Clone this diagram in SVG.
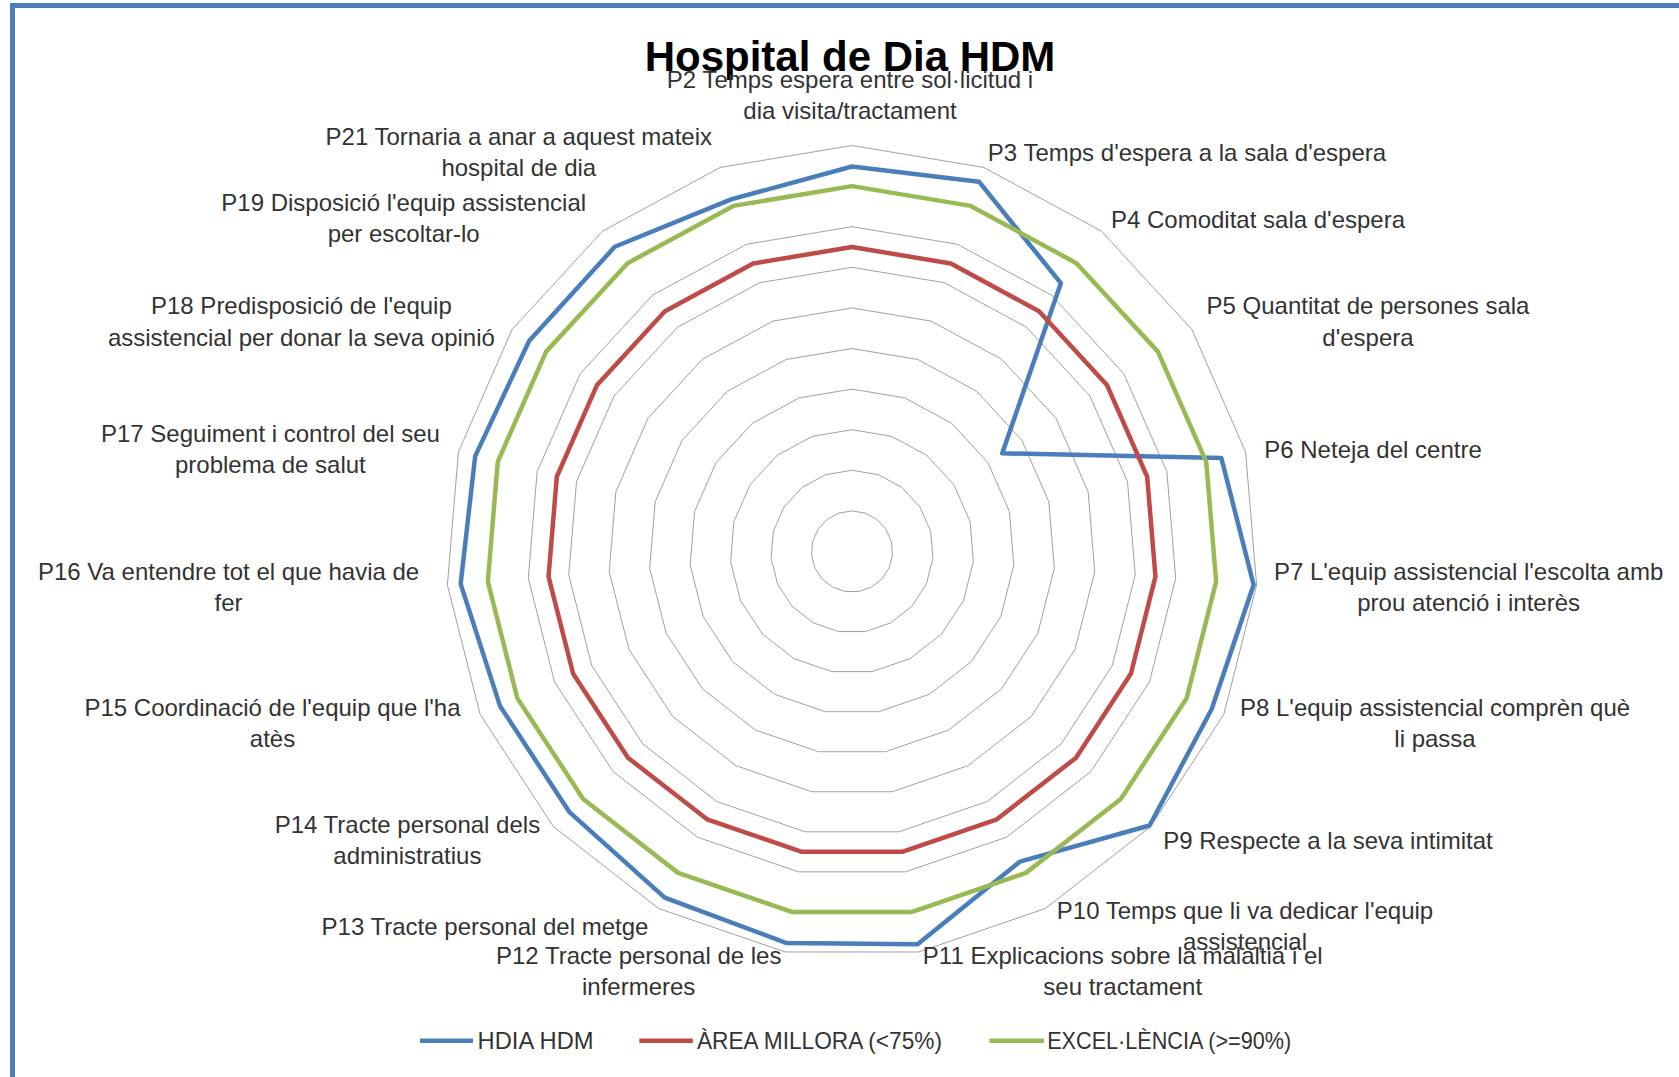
<svg xmlns="http://www.w3.org/2000/svg" xmlns:xlink="http://www.w3.org/1999/xlink" width="1679" height="1077" viewBox="0 0 1679 1077">
<style>
.lbl{font-family:"Liberation Sans",Arial,sans-serif;font-size:24px;fill:#333;text-anchor:middle}
.title{font-family:"Liberation Sans",Arial,sans-serif;font-size:42px;font-weight:bold;fill:#000;text-anchor:middle}
.leg{font-family:"Liberation Sans",Arial,sans-serif;font-size:24px;fill:#333}
.grid{fill:none;stroke:#a0a0a0;stroke-width:1}
.ser{fill:none;stroke-width:4.5;stroke-linejoin:round}
.blue{stroke:#4a7ebb}
.red{stroke:#be4b48}
.green{stroke:#98b954}
</style>
<defs>
<polygon id="ring" vector-effect="non-scaling-stroke" points="0,-406 131.83,-384 249.37,-320.39 339.89,-222.06 393.58,-99.67 404.61,33.53 371.8,163.09 298.7,274.98 193.24,357.06 66.83,400.46 -66.83,400.46 -193.24,357.06 -298.7,274.98 -371.8,163.09 -404.61,33.53 -393.58,-99.67 -339.89,-222.06 -249.37,-320.39 -131.83,-384"/>
</defs>
<rect width="1679" height="1077" fill="#fff"/>
<path d="M12.5,1077 V5.5 H1679" fill="none" stroke="#4a7ebb" stroke-width="5"/>

<g id="grid" class="grid">
<use xlink:href="#ring" transform="translate(852,551.5) scale(0.1)"/>
<use xlink:href="#ring" transform="translate(852,551.5) scale(0.2)"/>
<use xlink:href="#ring" transform="translate(852,551.5) scale(0.3)"/>
<use xlink:href="#ring" transform="translate(852,551.5) scale(0.4)"/>
<use xlink:href="#ring" transform="translate(852,551.5) scale(0.5)"/>
<use xlink:href="#ring" transform="translate(852,551.5) scale(0.6)"/>
<use xlink:href="#ring" transform="translate(852,551.5) scale(0.7)"/>
<use xlink:href="#ring" transform="translate(852,551.5) scale(0.8)"/>
<use xlink:href="#ring" transform="translate(852,551.5) scale(0.9)"/>
<use xlink:href="#ring" transform="translate(852,551.5)"/>
</g>

<g id="series">
<polygon id="s-hdia" class="ser blue" points="852,166.5 978.96,181.68 1060.83,283.19 1002.27,453.32 1221.34,457.97 1253.62,584.78 1211.62,709.25 1149.6,825.46 1019.87,861.69 917.56,944.37 786.65,943.08 664.71,897.57 569.19,811.85 499.98,705.91 460.64,583.93 475.19,456.08 529.27,340.65 614.79,246.73 731.11,199.37"/>
<use id="s-millora" class="ser red" xlink:href="#ring" transform="translate(852,551.5) scale(0.75)"/>
<use id="s-excel" class="ser green" xlink:href="#ring" transform="translate(852,551.5) scale(0.9)"/>
</g>

<g id="title"><text class="title" x="850" y="71">Hospital de Dia HDM</text></g>

<g id="labels">
<g id="l-p2"><text class="lbl" x="850" y="87.7">P2 Temps espera entre sol·licitud i</text><text class="lbl" x="850" y="118.8">dia visita/tractament</text></g>
<g id="l-p3"><text class="lbl" x="1187" y="160.5">P3 Temps d'espera a la sala d'espera</text></g>
<g id="l-p4"><text class="lbl" x="1258" y="228">P4 Comoditat sala d'espera</text></g>
<g id="l-p5"><text class="lbl" x="1368" y="313.7">P5 Quantitat de persones sala</text><text class="lbl" x="1368" y="345.8">d'espera</text></g>
<g id="l-p6"><text class="lbl" x="1373" y="458.2">P6 Neteja del centre</text></g>
<g id="l-p7"><text class="lbl" x="1468.6" y="580.3">P7 L'equip assistencial l'escolta amb</text><text class="lbl" x="1468.6" y="611.4">prou atenció i interès</text></g>
<g id="l-p8"><text class="lbl" x="1435" y="716.3">P8 L'equip assistencial comprèn què</text><text class="lbl" x="1435" y="747.4">li passa</text></g>
<g id="l-p9"><text class="lbl" x="1328" y="849.1">P9 Respecte a la seva intimitat</text></g>
<g id="l-p10"><text class="lbl" x="1245" y="918.7">P10 Temps que li va dedicar l'equip</text><text class="lbl" x="1245" y="949.7">assistencial</text></g>
<g id="l-p11"><text class="lbl" x="1122.7" y="963.7">P11 Explicacions sobre la malaltia i el</text><text class="lbl" x="1122.7" y="994.7">seu tractament</text></g>
<g id="l-p12"><text class="lbl" x="638.7" y="963.7">P12 Tracte personal de les</text><text class="lbl" x="638.7" y="994.7">infermeres</text></g>
<g id="l-p13"><text class="lbl" x="485" y="934.7">P13 Tracte personal del metge</text></g>
<g id="l-p14"><text class="lbl" x="407.4" y="833">P14 Tracte personal dels</text><text class="lbl" x="407.4" y="864.1">administratius</text></g>
<g id="l-p15"><text class="lbl" x="272.5" y="716.3">P15 Coordinació de l'equip que l'ha</text><text class="lbl" x="272.5" y="747.4">atès</text></g>
<g id="l-p16"><text class="lbl" x="228.6" y="580.3">P16 Va entendre tot el que havia de</text><text class="lbl" x="228.6" y="611.4">fer</text></g>
<g id="l-p17"><text class="lbl" x="270.4" y="442.2">P17 Seguiment i control del seu</text><text class="lbl" x="270.4" y="473.2">problema de salut</text></g>
<g id="l-p18"><text class="lbl" x="301.4" y="313.7">P18 Predisposició de l'equip</text><text class="lbl" x="301.4" y="345.8">assistencial per donar la seva opinió</text></g>
<g id="l-p19"><text class="lbl" x="403.7" y="210.9">P19 Disposició l'equip assistencial</text><text class="lbl" x="403.7" y="241.9">per escoltar-lo</text></g>
<g id="l-p21"><text class="lbl" x="518.8" y="144.5">P21 Tornaria a anar a aquest mateix</text><text class="lbl" x="518.8" y="175.5">hospital de dia</text></g>
</g>

<g id="legend">
<line class="ser blue" x1="420" y1="1040.8" x2="473" y2="1040.8"/>
<text class="leg" x="477.6" y="1049" textLength="116" lengthAdjust="spacingAndGlyphs">HDIA HDM</text>
<line class="ser red" x1="639.3" y1="1040.8" x2="692.8" y2="1040.8"/>
<text class="leg" x="697" y="1049" textLength="245" lengthAdjust="spacingAndGlyphs">ÀREA MILLORA (&lt;75%)</text>
<line class="ser green" x1="989.4" y1="1040.8" x2="1044" y2="1040.8"/>
<text class="leg" x="1047.2" y="1049" textLength="244" lengthAdjust="spacingAndGlyphs">EXCEL·LÈNCIA (&gt;=90%)</text>
</g>
</svg>
